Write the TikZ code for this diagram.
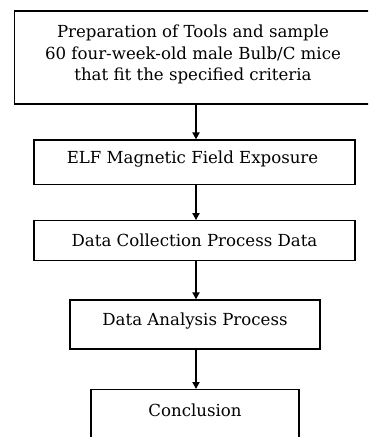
\documentclass[tikz,border=0pt]{standalone}
\usepackage{fontspec}
\setmainfont{DejaVu Serif}
\usetikzlibrary{arrows.meta}
\begin{document}
\begin{tikzpicture}[x=1pt,y=-1pt,
  boxtext/.style={font=\fontsize{16.6}{21.5}\selectfont,align=center,inner sep=0pt},
  stepbox/.style={draw,line width=1.3pt,inner sep=0pt,boxtext},
  flow/.style={line width=1.8pt,-{Triangle[width=7pt,length=7pt]}}]
\useasboundingbox (0,0) rectangle (368,437);
\clip (0,0) rectangle (368,437);
% boxes: centre x, centre y, width, height
\node[stepbox,minimum width=362pt,minimum height=93pt] (prep) at (195.5,57.5) {};
\node[boxtext] (preptext) at (193,54.5)
  {Preparation of Tools and sample\\60 four-week-old male Bulb/C mice\\that fit the specified criteria};
\node[stepbox,minimum width=321pt,minimum height=44.5pt] (elf) at (194.5,162.3) {};
\node[boxtext] (elftext) at (192.5,159.5) {ELF Magnetic Field Exposure};
\node[stepbox,minimum width=321pt,minimum height=39.5pt] (coll) at (194.5,240.5)
  {Data Collection Process Data};
\node[stepbox,minimum width=250pt,minimum height=49pt] (anal) at (195,324.5) {};
\node[boxtext] (analtext) at (195,321) {Data Analysis Process};
\node[stepbox,minimum width=208pt,minimum height=100pt,anchor=north] (conc) at (195,389) {};
\node[boxtext] (conctext) at (195,410) {Conclusion};
% connectors
\draw[flow] (prep.south -| 196,0) -- (elf.north -| 196,0);
\draw[flow] (elf.south -| 196,0) -- (coll.north -| 196,0);
\draw[flow] (coll.south -| 196,0) -- (anal.north -| 196,0);
\draw[flow] (anal.south -| 196,0) -- (conc.north -| 196,0);
\end{tikzpicture}
\end{document}
